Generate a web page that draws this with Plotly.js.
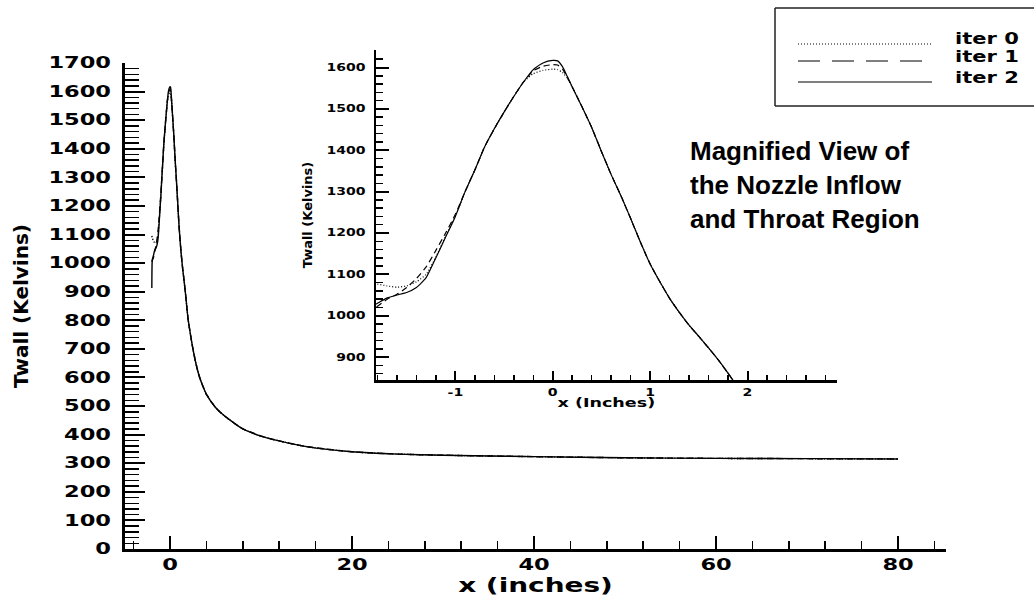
<!DOCTYPE html>
<html>
<head>
<meta charset="utf-8">
<script src="https://cdn.plot.ly/plotly-3.0.1.min.js"></script>
<style>
html,body{margin:0;padding:0;background:#ffffff;}
#chart{width:1034px;height:596px;}
</style>
</head>
<body>
<div id="chart"></div>
<script>
// x position along the nozzle wall (inches)
const xInches = [-2.0, -1.95, -1.83, -1.7, -1.6, -1.5, -1.4, -1.3, -1.2, -1.1,
  -1.0, -0.9, -0.8, -0.7, -0.6, -0.5, -0.4, -0.3, -0.2, -0.1,
  0.0, 0.05, 0.1, 0.15, 0.2, 0.3, 0.4, 0.5, 0.6, 0.7,
  0.8, 0.9, 1.0, 1.1, 1.2, 1.3, 1.4, 1.5, 1.6, 1.7,
  1.8, 1.9, 2.0, 2.4, 2.8, 3.2, 3.6, 4.0, 5.0, 6.0,
  8, 10, 12, 15, 20, 25, 30, 40, 50, 60,
  70, 80];

// wall temperature (Kelvins) for each iteration
const iter0 = [1095, 1088, 1078, 1072, 1069, 1072, 1082, 1100, 1142, 1192,
  1240, 1300, 1352, 1408, 1452, 1492, 1530, 1565, 1585, 1593,
  1596, 1595, 1588, 1574, 1553, 1505, 1455, 1397, 1341, 1290,
  1235, 1178, 1125, 1082, 1042, 1008, 977, 950, 922, 893,
  861, 828, 800, 720, 655, 605, 570, 541, 495, 465,
  420, 395, 378, 358, 340, 332, 328, 323, 319, 317,
  316, 315];
const iter1 = [1005, 1010, 1018, 1040, 1052, 1068, 1090, 1118, 1158, 1200,
  1245, 1300, 1352, 1408, 1452, 1492, 1530, 1565, 1592, 1603,
  1607, 1606, 1596, 1576, 1553, 1505, 1455, 1397, 1341, 1290,
  1235, 1178, 1125, 1082, 1042, 1008, 977, 950, 922, 893,
  861, 828, 800, 720, 655, 605, 570, 541, 495, 465,
  420, 395, 378, 358, 340, 332, 328, 323, 319, 317,
  316, 315];
const iter2 = [913, 1012, 1026, 1043, 1050, 1056, 1068, 1092, 1140, 1190,
  1240, 1300, 1352, 1408, 1452, 1492, 1530, 1565, 1595, 1611,
  1617, 1616, 1602, 1578, 1553, 1505, 1455, 1397, 1341, 1290,
  1235, 1178, 1125, 1082, 1042, 1008, 977, 950, 922, 893,
  861, 828, 800, 720, 655, 605, 570, 541, 495, 465,
  420, 395, 378, 358, 340, 332, 328, 323, 319, 317,
  316, 315];

const seriesNames = ['iter 0', 'iter 1', 'iter 2'];
const seriesValues = [iter0, iter1, iter2];
const seriesDash = ['1px,2px', '6px,4px', 'solid'];
const legendDash = ['1px,2px', '22px,12px', 'solid'];

const insetTickVals = [-1, 0, 1, 2];
const insetTickText = ['-1', '0', '1', '2'];

const mainXTitle = 'x (inches)';
const insetXTitle = 'x (Inches)';
const yTitle = 'Twall (Kelvins)';
const noteText = 'Magnified View of<br>the Nozzle Inflow<br>and Throat Region';

// pixel -> paper helpers (plot area: left 125, width 821, bottom 549, height 499)
const PL = 125, PW = 821, PB = 549, PH = 499;
const px = p => (p - PL) / PW;
const py = p => (PB - p) / PH;

const traces = [];
seriesValues.forEach((vals, i) => {
  traces.push({
    x: xInches, y: vals, name: seriesNames[i], type: 'scatter', mode: 'lines',
    xaxis: 'x', yaxis: 'y',
    line: {color: '#000', width: 1.4, dash: seriesDash[i], shape: 'spline', smoothing: 0.5},
    showlegend: false, hoverinfo: 'skip'
  });
});
seriesValues.forEach((vals, i) => {
  traces.push({
    x: xInches, y: vals, name: seriesNames[i], type: 'scatter', mode: 'lines',
    xaxis: 'x2', yaxis: 'y2',
    line: {color: '#000', width: 1.2, dash: seriesDash[i], shape: 'spline', smoothing: 0.5},
    showlegend: false, hoverinfo: 'skip'
  });
});

const bigTick = {family: 'DejaVu Sans', size: 15, weight: 'bold', color: '#000'};
const smallTick = {family: 'DejaVu Sans', size: 10, weight: 'bold', color: '#000'};

const shapes = [
  // legend frame (right side runs off the picture)
  {type: 'line', xref: 'paper', yref: 'paper', x0: px(775), x1: px(775), y0: py(8), y1: py(106), line: {color: '#222', width: 1.5}},
  {type: 'line', xref: 'paper', yref: 'paper', x0: px(775), x1: px(1040), y0: py(8), y1: py(8), line: {color: '#222', width: 1.5}},
  {type: 'line', xref: 'paper', yref: 'paper', x0: px(775), x1: px(1040), y0: py(106), y1: py(106), line: {color: '#222', width: 1.5}}
];
const legendY = [44, 61, 82];
const legendTextY = [39, 57, 78];
seriesNames.forEach((n, i) => {
  shapes.push({type: 'line', xref: 'paper', yref: 'paper', x0: px(798), x1: px(932), y0: py(legendY[i]), y1: py(legendY[i]),
    line: {color: '#000', width: 1.2, dash: legendDash[i]}});
});

const annotations = [
  {xref: 'paper', yref: 'paper', x: px(688), y: py(134), xanchor: 'left', yanchor: 'top', align: 'left', showarrow: false,
   text: noteText, font: {family: 'Liberation Sans, Arial, sans-serif', size: 26, weight: 'bold', color: '#000'}}
];
seriesNames.forEach((n, i) => {
  annotations.push({xref: 'paper', yref: 'paper', x: px(953), y: py(legendTextY[i]), xanchor: 'left', yanchor: 'middle',
    align: 'left', showarrow: false, text: n, font: {family: 'DejaVu Sans', size: 15, weight: 'bold', color: '#000'}});
});

const layout = {
  width: 1034, height: 596,
  margin: {l: PL, r: 1034 - PL - PW, t: PB - PH, b: 596 - PB, pad: 0},
  paper_bgcolor: '#ffffff', plot_bgcolor: 'rgba(0,0,0,0)',
  showlegend: false,
  font: {family: 'DejaVu Sans', color: '#000'},
  xaxis: {
    domain: [0, 1], anchor: 'y', range: [-4.95, 85.27], tick0: 0, dtick: 20,
    ticks: 'inside', ticklen: 13, tickwidth: 2, tickcolor: '#000',
    showline: true, linewidth: 3, linecolor: '#000', showgrid: false, zeroline: false,
    minor: {dtick: 4, tick0: 0, ticks: 'inside', ticklen: 8, tickwidth: 1.5, tickcolor: '#000', showgrid: false},
    tickfont: bigTick, ticklabelstandoff: 0,
    title: {text: mainXTitle, font: {family: 'DejaVu Sans', size: 19, weight: 'bold', color: '#000'}, standoff: 9}
  },
  yaxis: {
    domain: [0, (PB - 63) / PH], anchor: 'x', range: [0, 1700], tick0: 0, dtick: 100,
    ticks: 'inside', ticklen: 20, tickwidth: 2, tickcolor: '#000',
    showline: true, linewidth: 3, linecolor: '#000', showgrid: false, zeroline: false,
    minor: {dtick: 20, tick0: 0, ticks: 'inside', ticklen: 14, tickwidth: 1.5, tickcolor: '#000', showgrid: false},
    tickfont: bigTick, ticklabelstandoff: 8,
    title: {text: yTitle, font: {family: 'DejaVu Sans', size: 20, weight: 'bold', color: '#000'}, standoff: 36}
  },
  xaxis2: {
    domain: [px(376), px(836.7)], anchor: 'y2', range: [-1.815, 2.916],
    tickmode: 'array', tickvals: insetTickVals, ticktext: insetTickText,
    ticks: 'inside', ticklen: 9, tickwidth: 2, tickcolor: '#000',
    showline: true, linewidth: 3, linecolor: '#000', showgrid: false, zeroline: false,
    minor: {dtick: 0.2, tick0: 0, ticks: 'inside', ticklen: 5, tickwidth: 1.5, tickcolor: '#000', showgrid: false},
    tickfont: smallTick, ticklabelstandoff: 1,
    title: {text: insetXTitle, font: {family: 'DejaVu Sans', size: 13, weight: 'bold', color: '#000'}, standoff: 1}
  },
  yaxis2: {
    domain: [py(380), 1], anchor: 'x2', range: [844.6, 1642.3], tick0: 0, dtick: 100,
    ticks: 'inside', ticklen: 13, tickwidth: 2, tickcolor: '#000',
    showline: true, linewidth: 2.5, linecolor: '#000', showgrid: false, zeroline: false,
    minor: {dtick: 20, tick0: 0, ticks: 'inside', ticklen: 7, tickwidth: 1.5, tickcolor: '#000', showgrid: false},
    tickfont: smallTick, ticklabelstandoff: 6,
    title: {text: yTitle, font: {family: 'DejaVu Sans', size: 13, weight: 'bold', color: '#000'}, standoff: 22}
  },
  shapes: shapes,
  annotations: annotations
};

// the reference's plotting-package text is drawn horizontally widened; widen the same text elements
function widen(el, factor) {
  try {
    const w = el.getComputedTextLength();
    if (w > 0) {
      el.setAttribute('textLength', (w * factor).toFixed(1));
      el.setAttribute('lengthAdjust', 'spacingAndGlyphs');
    }
  } catch (e) {}
}

Plotly.newPlot('chart', traces, layout, {staticPlot: true, displayModeBar: false}).then(gd => {
  gd.querySelectorAll('g.xtick text, g.ytick text').forEach(el => widen(el, 1.5));
  gd.querySelectorAll('g.x2tick text, g.y2tick text').forEach(el => widen(el, 1.4));
  gd.querySelectorAll('text.xtitle').forEach(el => widen(el, 1.47));
  gd.querySelectorAll('text.x2title').forEach(el => widen(el, 1.35));
  gd.querySelectorAll('.annotation-text').forEach(el => {
    if (seriesNames.indexOf(el.textContent) >= 0) widen(el, 1.4);
  });
});
</script>
</body>
</html>
